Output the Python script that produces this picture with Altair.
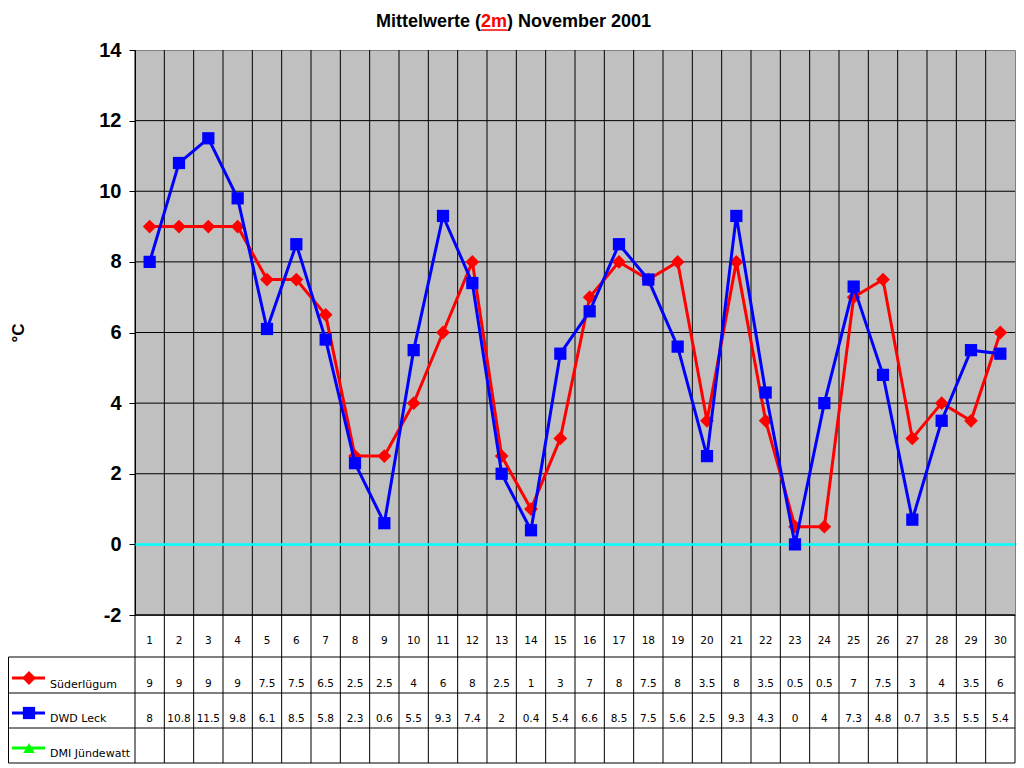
import altair as alt
import pandas as pd

days = list(range(1, 31))
suederluegum = [9, 9, 9, 9, 7.5, 7.5, 6.5, 2.5, 2.5, 4, 6, 8, 2.5, 1, 3, 7, 8, 7.5, 8, 3.5,
                8, 3.5, 0.5, 0.5, 7, 7.5, 3, 4, 3.5, 6]
dwd_leck = [8, 10.8, 11.5, 9.8, 6.1, 8.5, 5.8, 2.3, 0.6, 5.5, 9.3, 7.4, 2, 0.4, 5.4, 6.6,
            8.5, 7.5, 5.6, 2.5, 9.3, 4.3, 0, 4, 7.3, 4.8, 0.7, 3.5, 5.5, 5.4]
series_names = ["Süderlügum", "DWD Leck", "DMI Jündewatt"]
series_colors = ["#FF0000", "#0000FF", "#00FF00"]
series_shapes = ["diamond", "square", "triangle-up"]
y_ticks = [-2, 0, 2, 4, 6, 8, 10, 12, 14]

W, H = 880, 565
TABLE_BOTTOM = 713
ROW_LINES = [607, 643, 678, 713]
LEG_LINE_Y = [628, 663, 698]
LEG_TEXT_Y = [635, 669, 704]

df = pd.DataFrame({
    "day": days,
    "sued": suederluegum,
    "dwd": dwd_leck,
    "sued_t": [f"{v:g}" for v in suederluegum],
    "dwd_t": [f"{v:g}" for v in dwd_leck],
    "day_t": [str(d) for d in days],
})

xs = alt.Scale(domain=[0.5, 30.5], nice=False, zero=False)
ys = alt.Scale(domain=[-2, 14], nice=False, zero=False)
yax = alt.Axis(
    values=y_ticks, title=None, grid=False, labelFont="Liberation Sans",
    labelFontWeight="bold", labelFontSize=20, labelColor="black",
    labelExpr="datum.value + ''",
    tickColor="black", tickSize=6, labelPadding=8, domainColor="black",
    domainWidth=1, tickWidth=1)
one = pd.DataFrame({"k": [0]})
SIZES = {"diamond": 190, "square": 150, "triangle-up": 130}

base = alt.Chart(df)

layers = []

# horizontal grid lines (except 0 and the top edge)
layers.append(alt.Chart(pd.DataFrame({"v": [t for t in y_ticks if t not in (0, 14)]})).mark_rule(
    color="black", strokeWidth=1).encode(
    y=alt.Y("v:Q", scale=ys, axis=yax), x=alt.value(0), x2=alt.value(W)))

# vertical column boundaries through plot and table
layers.append(alt.Chart(pd.DataFrame({"b": [d + 0.5 for d in days[:-1]]})).mark_rule(
    color="black", strokeWidth=1).encode(
    x=alt.X("b:Q", scale=xs, axis=None), y=alt.value(0), y2=alt.value(TABLE_BOTTOM)))
layers.append(alt.Chart(pd.DataFrame({"b": [days[-1] + 0.5]})).mark_rule(
    color="black", strokeWidth=1).encode(
    x=alt.X("b:Q", scale=xs, axis=None), y=alt.value(H), y2=alt.value(TABLE_BOTTOM)))

# zero line
layers.append(alt.Chart(pd.DataFrame({"v": [0]})).mark_rule(color="#00FFFF", strokeWidth=2.5).encode(
    y=alt.Y("v:Q", scale=ys, axis=yax), x=alt.value(0), x2=alt.value(W)))

# table lines
layers.append(alt.Chart(one).mark_rule(color="black", strokeWidth=1).encode(
    x=alt.value(0), x2=alt.value(W), y=alt.value(H)))
for r in ROW_LINES:
    layers.append(alt.Chart(one).mark_rule(color="black", strokeWidth=1).encode(
        x=alt.value(-126.5), x2=alt.value(W), y=alt.value(r)))
layers.append(alt.Chart(one).mark_rule(color="black", strokeWidth=1).encode(
    x=alt.value(-126.5), y=alt.value(ROW_LINES[0]), y2=alt.value(TABLE_BOTTOM)))
layers.append(alt.Chart(one).mark_rule(color="black", strokeWidth=1).encode(
    x=alt.value(0), y=alt.value(0), y2=alt.value(TABLE_BOTTOM)))

# series
layers.append(base.mark_line(color=series_colors[0], strokeWidth=3).encode(
    x=alt.X("day:Q", scale=xs, axis=None), y=alt.Y("sued:Q", scale=ys, axis=yax)))
layers.append(base.mark_point(shape=series_shapes[0], filled=True, size=SIZES[series_shapes[0]],
                              color=series_colors[0], opacity=1).encode(
    x=alt.X("day:Q", scale=xs, axis=None), y=alt.Y("sued:Q", scale=ys, axis=yax)))
layers.append(base.mark_line(color=series_colors[1], strokeWidth=3).encode(
    x=alt.X("day:Q", scale=xs, axis=None), y=alt.Y("dwd:Q", scale=ys, axis=yax)))
layers.append(base.mark_point(shape=series_shapes[1], filled=True, size=SIZES[series_shapes[1]],
                              color=series_colors[1], opacity=1).encode(
    x=alt.X("day:Q", scale=xs, axis=None), y=alt.Y("dwd:Q", scale=ys, axis=yax)))

# table texts
tfont = "DejaVu Sans"
for col, yy in [("day_t", 591), ("sued_t", 634), ("dwd_t", 669)]:
    layers.append(base.mark_text(font=tfont, fontSize=10.5, color="black", baseline="middle").encode(
        x=alt.X("day:Q", scale=xs, axis=None), y=alt.value(yy), text=f"{col}:N"))

# legend cells
for name, colr, shp, ly, ty in zip(series_names, series_colors, series_shapes, LEG_LINE_Y, LEG_TEXT_Y):
    layers.append(alt.Chart(one).mark_rule(strokeWidth=3, color=colr).encode(
        x=alt.value(-123), x2=alt.value(-90), y=alt.value(ly)))
    layers.append(alt.Chart(one).mark_point(filled=True, size=SIZES[shp], opacity=1, color=colr, shape=shp).encode(
        x=alt.value(-106), y=alt.value(ly)))
    layers.append(alt.Chart(one).mark_text(font=tfont, fontSize=11, align="left", baseline="middle",
                                           color="black", text=name).encode(
        x=alt.value(-85), y=alt.value(ty)))

# title
tf = dict(font="Liberation Sans", fontWeight="bold", fontSize=18, baseline="alphabetic")
layers.append(alt.Chart(one).mark_text(align="right", color="black", text="Mittelwerte (", **tf).encode(
    x=alt.value(346), y=alt.value(-23)))
layers.append(alt.Chart(one).mark_text(align="left", color="#FF0000", text="2m", **tf).encode(
    x=alt.value(346), y=alt.value(-23)))
layers.append(alt.Chart(one).mark_text(align="left", color="black", text=") November 2001", **tf).encode(
    x=alt.value(372), y=alt.value(-23)))
layers.append(alt.Chart(one).mark_rule(color="#FF0000", strokeWidth=1.5).encode(
    x=alt.value(346), x2=alt.value(372), y=alt.value(-20)))

# y title
layers.append(alt.Chart(one).mark_text(
    font="Liberation Sans", fontWeight="bold", fontSize=17, angle=270, color="black",
    align="center", baseline="middle", text="°C").encode(
    x=alt.value(-116), y=alt.value(283)))

chart = alt.layer(*layers).properties(
    width=W, height=H,
    autosize=alt.AutoSizeParams(type="none"),
    padding={"left": 127, "top": 42, "right": 1, "bottom": 150},
    background="white",
).configure_view(fill="#C0C0C0", stroke="#808080", strokeWidth=1)

chart.save("out.html", embed_options={"renderer": "svg", "actions": False})
